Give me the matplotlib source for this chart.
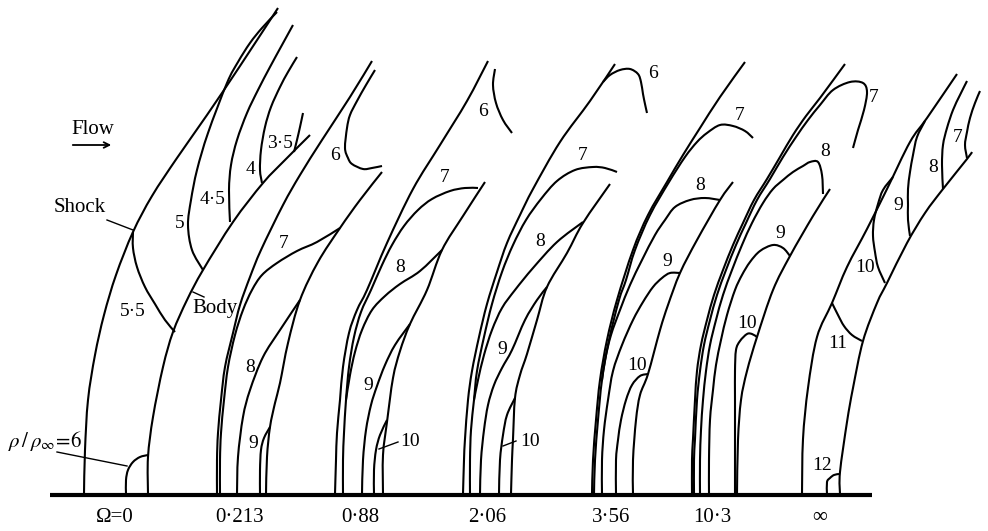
import matplotlib
matplotlib.use("Agg")
import matplotlib.pyplot as plt
from matplotlib.path import Path
from matplotlib.patches import PathPatch

plt.rcParams['font.family'] = ['Liberation Serif', 'DejaVu Serif']
plt.rcParams['mathtext.fontset'] = 'stix'

# ---------------- data: curves (pixel coords) -------------
# Panel 1 : Omega = 0
P1_SHOCK = [(84,494),(85,450),(88,400),(95,355),(104,315),(116,275),(133,232),(152,196),(177,158),(207,115),(240,66),(278,8)]
P1_BODY = [(148,494),(148,457),(153,417),(163,367),(173,332),(187,300),(203,270),(233,222),(263,183),(285,160),(310,135)]
P1_C6 = [(126,494),(126,480),(128,470),(133,462),(140,457),(148,455)]
P1_C55 = [(133,232),(133,248),(137,267),(145,287),(155,304),(165,320),(175,332)]
P1_C5 = [(277,12),(262,28),(250,43),(238,62),(227,83),(208,133),(197,170),(191,200),(188,225),(192,250),(203,270)]
P1_C45 = [(293,25),(282,45),(270,67),(258,90),(247,113),(237,140),(231,165),(229,190),(230,222)]
P1_C4 = [(297,57),(288,72),(280,87),(271,107),(265,127),(261,150),(260,170),(262,183)]
P1_C35 = [(303,113),(300,127),(297,140),(294,152)]

# Panel 2 : Omega = 0.213
P2_SHOCK = [(217,494),(217,460),(218,433),(221,400),(225,367),(233,333),(240,305),(250,277),(261,250),(283,205),(300,175),(322,140),(350,97),(372,61)]
P2_C7 = [(220,494),(220,460),(221,433),(224,400),(228,367),(235,335),(243,310),(252,290),(262,275),(277,263),(297,251),(317,242),(340,228)]
P2_C6 = [(375,70),(366,85),(357,101),(350,115),(347,128),(345,148),(348,158),(352,164),(363,169),(372,168),(382,166)]
P2_C8 = [(237,494),(238,457),(243,417),(250,390),(263,357),(280,330),(300,300)]
P2_C9 = [(260,494),(260,470),(261,450),(264,438),(270,427)]
P2_BODY = [(266,494),(267,457),(270,427),(275,403),(280,383),(288,343),(300,300),(318,262),(340,228),(360,200),(382,172)]

# Panel 3 : Omega = 0.88
P3_SHOCK = [(335,494),(336,460),(337,433),(340,400),(343,367),(349,333),(357,310),(367,290),(387,243),(413,189),(440,145),(467,101),(488,61)]
P3_C7 = [(343,494),(343,460),(344,433),(346,400),(349,367),(354,337),(361,312),(371,290),(382,265),(392,245),(404,226),(418,210),(432,199),(450,191),(465,188),(478,188)]
P3_C8 = [(346,400),(350,375),(355,352),(362,330),(372,310),(385,296),(400,284),(420,271),(442,250)]
P3_C9 = [(362,494),(363,460),(366,430),(371,405),(377,386),(385,365),(395,345),(410,324)]
P3_C10 = [(374,494),(374,470),(376,450),(380,435),(387,420)]
P3_BODY = [(383,494),(383,455),(387,422),(393,378),(400,351),(410,324),(427,290),(442,250),(463,216),(485,182)]
P3_C6 = [(495,69),(493,85),(496,103),(503,120),(512,133)]

# Panel 4 : Omega = 2.06
P4_SHOCK = [(463,494),(464,460),(465,439),(468,400),(472,371),(479,337),(487,304),(497,272),(507,243),(520,215),(533,189),(560,142),(590,101),(615,64)]
P4_C7 = [(470,494),(470,460),(471,430),(474,400),(477,371),(484,337),(492,304),(502,272),(513,245),(526,220),(541,199),(557,181),(575,170),(593,167),(605,168),(617,172)]
P4_C8 = [(474,400),(478,380),(484,355),(492,330),(502,308),(515,290),(533,268),(557,242),(583,222)]
P4_C9 = [(480,494),(481,460),(484,430),(488,405),(494,385),(502,368),(512,350),(525,320),(537,300),(547,287)]
P4_C10 = [(499,494),(500,460),(503,435),(507,415),(515,398)]
P4_BODY = [(511,494),(512,460),(513,439),(515,398),(520,375),(527,354),(537,320),(547,287),(567,253),(583,223),(610,184)]
P4_C6 = [(603,82),(610,75),(620,70),(630,69),(638,74),(641,82),(643,94),(645,104),(647,113)]

# Panel 5 : Omega = 3.56
P5_SHOCK = [(592,494),(593,460),(596,420),(600,380),(607,340),(617,300),(633,250),(648,215),(667,182),(683,155),(700,128),(720,97),(745,62)]
P5_C7 = [(594,494),(595,460),(598,420),(602,380),(609,340),(619,300),(626,280),(635,250),(650,215),(669,182),(685,157),(697,142),(707,133),(720,125),(733,126),(745,131),(753,138)]
P5_C8 = [(602,380),(605,360),(611,335),(620,310),(630,285),(642,260),(655,235),(665,220),(675,207),(690,200),(705,198),(720,200)]
P5_C9 = [(602,494),(602,460),(604,430),(608,400),(613,371),(622,345),(633,320),(643,302),(653,287),(662,278),(670,273),(680,273)]
P5_C10 = [(616,494),(616,460),(618,440),(621,420),(626,400),(632,385),(640,376),(648,374)]
P5_BODY = [(633,494),(633,460),(636,420),(640,395),(648,374),(660,330),(668,305),(680,273),(697,240),(720,200),(733,182)]

# Panel 6 : Omega = 10.3
P6_SHOCK = [(692,494),(692,460),(693,439),(695,400),(697,371),(701,345),(707,320),(714,295),(723,270),(733,245),(743,223),(754,200),(767,179),(780,157),(793,135),(806,116),(820,98),(845,64)]
P6_C7 = [(694,494),(694,460),(695,439),(697,400),(700,371),(704,345),(710,320),(717,295),(726,270),(736,245),(746,223),(757,200),(770,179),(783,157),(796,137),(808,120),(820,105),(833,90),(850,82),(863,83),(867,92),(864,110),(858,130),(853,148)]
P6_C8 = [(700,494),(700,460),(701,430),(703,400),(706,371),(710,345),(716,320),(723,295),(732,270),(742,245),(752,223),(763,203),(773,189),(783,180),(793,172),(803,166),(810,162),(818,162),(822,175),(823,194)]
P6_C9 = [(709,494),(709,460),(710,420),(713,390),(716,365),(721,340),(727,315),(735,290),(742,275),(750,262),(760,251),(773,245),(783,248),(790,256)]
P6_C10 = [(735,494),(735,460),(735,400),(735,371),(736,350),(740,341),(747,334),(752,334),(757,337)]
P6_BODY = [(737,494),(738,440),(741,400),(747,371),(757,337),(773,290),(790,256),(813,216),(830,189)]

# Panel 7 : Omega = infinity
P7_SHOCK = [(802,494),(803,439),(808,388),(817,337),(832,303),(847,267),(867,229),(887,189),(910,142),(927,118),(957,74)]
P7_BODY = [(840,494),(840,472),(847,422),(853,388),(863,341),(877,303),(887,283),(907,243),(925,213),(943,189),(967,159),(972,152)]
P7_C12 = [(827,494),(827,482),(830,478),(834,475),(839,474)]
P7_C11 = [(832,303),(838,315),(844,326),(852,335),(862,341)]
P7_C10 = [(893,177),(883,190),(878,204),(874,220),(873,236),(875,252),(878,267),(885,283)]
P7_C9 = [(925,121),(917,137),(913,155),(910,172),(908,189),(908,205),(908,220),(910,236)]
P7_C8 = [(967,81),(960,95),(953,110),(947,128),(943,145),(942,165),(943,189)]
P7_C7 = [(980,91),(975,103),(970,118),(967,132),(965,145),(967,158)]

CURVES = [P1_SHOCK, P1_BODY, P1_C6, P1_C55, P1_C5, P1_C45, P1_C4, P1_C35,
          P2_SHOCK, P2_C7, P2_C6, P2_C8, P2_C9, P2_BODY,
          P3_SHOCK, P3_C7, P3_C8, P3_C9, P3_C10, P3_BODY, P3_C6,
          P4_SHOCK, P4_C7, P4_C8, P4_C9, P4_C10, P4_BODY, P4_C6,
          P5_SHOCK, P5_C7, P5_C8, P5_C9, P5_C10, P5_BODY,
          P6_SHOCK, P6_C7, P6_C8, P6_C9, P6_C10, P6_BODY,
          P7_SHOCK, P7_BODY, P7_C12, P7_C11, P7_C10, P7_C9, P7_C8, P7_C7]

# contour labels (text, x, y)
CONTOUR_LABELS = [
    ("5·5", 133, 311), ("5", 180, 223), ("4·5", 213, 200), ("4", 250, 170), ("3·5", 280, 144),
    ("7", 284, 243), ("8", 250, 368), ("9", 253, 443), ("6", 335, 155),
    ("7", 445, 178), ("8", 400, 268), ("9", 368, 385), ("10", 410, 441), ("6", 483, 111),
    ("7", 583, 155), ("8", 540, 241), ("9", 502, 349), ("10", 530, 442), ("6", 653, 74),
    ("7", 740, 115), ("8", 700, 185), ("9", 667, 261), ("10", 637, 366),
    ("7", 874, 97), ("8", 825, 152), ("9", 780, 233), ("10", 747, 324),
    ("12", 822, 466), ("11", 838, 344), ("10", 865, 268), ("9", 898, 206), ("8", 933, 167), ("7", 958, 137),
]

# leader lines for labels ((x0, y0), (x1, y1))
LEADERS = [((107, 220), (133, 230)),   # Shock
           ((193, 292), (204, 297)),   # Body
           ((57, 452), (127, 466)),    # rho/rho_inf = 6
           ((379, 449), (398, 442)),   # 10 in panel 0.88
           ((503, 446), (516, 441))]   # 10 in panel 2.06

# bottom labels: rotation rate values
OMEGA_LABELS = ["Ω=0", "0·213", "0·88", "2·06", "3·56", "10·3", "∞"]
OMEGA_X = [115, 240, 360, 487, 611, 712, 820]

BASE_X = [50, 872]


def smooth_path(pts):
    """Cubic Bezier path through the traced points (Catmull-Rom tangents)."""
    n = len(pts)
    verts = [pts[0]]
    codes = [Path.MOVETO]
    for i in range(n - 1):
        p0 = pts[i - 1] if i > 0 else pts[i]
        p1 = pts[i]
        p2 = pts[i + 1]
        p3 = pts[i + 2] if i + 2 < n else pts[i + 1]
        c1 = (p1[0] + (p2[0] - p0[0]) / 6.0, p1[1] + (p2[1] - p0[1]) / 6.0)
        c2 = (p2[0] - (p3[0] - p1[0]) / 6.0, p2[1] - (p3[1] - p1[1]) / 6.0)
        verts += [c1, c2, p2]
        codes += [Path.CURVE4, Path.CURVE4, Path.CURVE4]
    return Path(verts, codes)


# ---------------- drawing -------------
fig = plt.figure(figsize=(9.88, 5.31), dpi=100)
ax = fig.add_axes([0, 0, 1, 1])
ax.set_xlim(0, 988)
ax.set_ylim(531, 0)
ax.axis('off')

for c in CURVES:
    ax.add_patch(PathPatch(smooth_path(c), facecolor='none', edgecolor='black',
                           lw=1.5, joinstyle='round', capstyle='butt'))

ax.plot(BASE_X, [495, 495], color='black', lw=3.0, solid_capstyle='butt')

for t, x, y in CONTOUR_LABELS:
    ax.text(x, y, t, fontsize=14, ha='center', va='center')

for t, x in zip(OMEGA_LABELS, OMEGA_X):
    ax.text(x, 517, t, fontsize=15, ha='center', va='center')

for (a, b) in LEADERS:
    ax.plot([a[0], b[0]], [a[1], b[1]], color='black', lw=1.0)

ax.text(93, 129, "Flow", fontsize=15, ha='center', va='center')
ax.annotate("", xy=(114, 145), xytext=(70, 145),
            arrowprops=dict(arrowstyle='->', color='black', lw=1.3))
ax.text(80, 208, "Shock", fontsize=15, ha='center', va='center')
ax.text(215, 309, "Body", fontsize=15, ha='center', va='center')
ax.text(45, 441, r"$\rho\,/\,\rho_\infty\!=\!6$", fontsize=15, ha='center', va='center')

fig.savefig("out.png", dpi=100)
